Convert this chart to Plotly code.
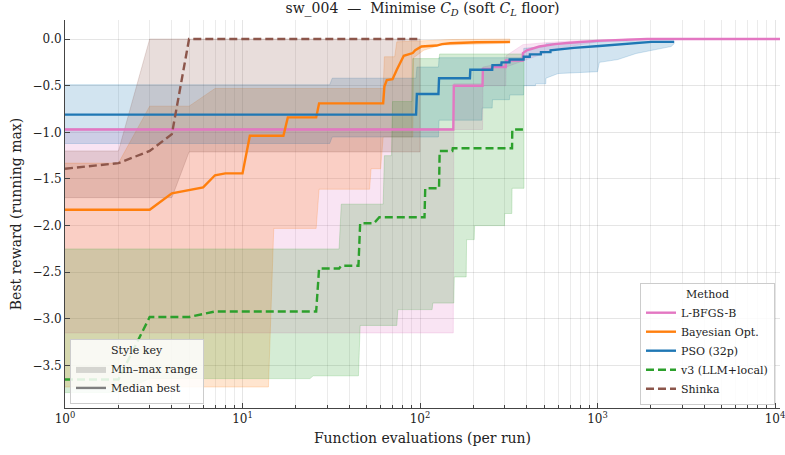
import plotly.graph_objects as go

# ---- data: (function evaluations, best reward) knots ----
methods = ["L-BFGS-B", "Bayesian Opt.", "PSO (32p)", "v3 (LLM+local)", "Shinka"]
colors = ["#e377c2", "#ff7f0e", "#1f77b4", "#2ca02c", "#8c564b"]
dashes = ["solid", "solid", "solid", "8px,4px", "8px,4px"]

lbfgs_median = [(1, -0.97), (154, -0.97), (155, -0.50), (225, -0.50), (226, -0.32), (253, -0.32),
                (254, -0.30), (304, -0.30), (305, -0.23), (379, -0.23), (380, -0.15), (400, -0.12),
                (470, -0.08), (575, -0.055), (700, -0.04), (990, -0.02), (1900, 0.0), (11000, 0.0)]
lbfgs_lower = [(1, -3.15), (154, -3.15), (155, -0.97), (225, -0.97), (226, -0.50), (304, -0.50),
               (305, -0.30), (600, -0.10), (1000, -0.03), (1500, 0.0), (11000, 0.0)]
lbfgs_upper = [(1, -0.96), (154, -0.96), (155, -0.48), (225, -0.48), (226, -0.30), (304, -0.25),
               (305, -0.18), (380, -0.06), (500, -0.04), (700, -0.02), (1000, -0.01), (1500, 0.0),
               (11000, 0.0)]

bayes_median = [(1, -1.83), (3, -1.83), (4, -1.654), (6, -1.59), (7, -1.46), (8, -1.44), (10, -1.44),
                (11, -1.036), (17, -1.036), (18, -0.84), (26, -0.84), (27, -0.69), (62, -0.69),
                (63, -0.51), (65, -0.44), (70, -0.43), (74, -0.33), (79, -0.225), (81, -0.18),
                (91, -0.15), (94, -0.12), (102, -0.08), (124, -0.07), (133, -0.054), (148, -0.046),
                (208, -0.035), (321, -0.03)]
bayes_lower = [(1, -3.73), (14, -3.73), (15, -2.03), (26, -2.03), (27, -1.61), (52, -1.61),
               (53, -1.39), (60, -1.39), (61, -1.22), (62, -1.05), (91, -1.05), (92, -0.20),
               (100, -0.15), (105, -0.12), (130, -0.065), (321, -0.045)]
bayes_upper = [(1, -1.33), (2, -1.33), (3, -0.72), (5, -0.72), (7, -0.53), (62, -0.53), (63, -0.19),
               (72, -0.19), (74, -0.03), (100, -0.02), (150, -0.005), (321, 0.0)]

pso_median = [(1, -0.81), (95, -0.81), (96, -0.59), (127, -0.59), (128, -0.42), (191, -0.42),
              (192, -0.33), (255, -0.33), (256, -0.28), (287, -0.28), (288, -0.25), (319, -0.25),
              (320, -0.22), (383, -0.22), (384, -0.19), (415, -0.19), (416, -0.165), (479, -0.165),
              (480, -0.14), (543, -0.14), (544, -0.12), (640, -0.105), (736, -0.095), (1024, -0.075),
              (1440, -0.05), (2016, -0.03), (2700, -0.03)]
pso_lower = [(1, -1.12), (31, -1.12), (32, -1.05), (127, -1.05), (128, -0.87), (223, -0.87),
             (224, -0.74), (255, -0.74), (256, -0.65), (319, -0.65), (320, -0.60), (383, -0.60),
             (384, -0.50), (447, -0.50), (448, -0.48), (511, -0.48), (512, -0.42), (600, -0.37),
             (1000, -0.35), (1024, -0.25), (1300, -0.22), (1650, -0.155), (2300, -0.10),
             (2600, -0.08), (2700, -0.05)]
pso_upper = [(1, -0.49), (31, -0.49), (32, -0.42), (95, -0.42), (96, -0.30), (127, -0.30),
             (128, -0.20), (383, -0.20), (384, -0.10), (511, -0.08), (512, -0.05), (1000, -0.03),
             (1500, -0.02), (2700, -0.02)]

v3_median = [(1, -3.65), (2, -3.65), (3, -2.98), (5, -2.98), (7, -2.92), (26, -2.92), (27, -2.46),
             (35, -2.46), (36, -2.43), (45, -2.43), (46, -1.975), (55, -1.975), (59, -1.91),
             (106, -1.91), (107, -1.60), (128, -1.60), (129, -1.20), (152, -1.20), (153, -1.17),
             (330, -1.17), (331, -0.97), (380, -0.97)]
v3_lower = [(1, -3.79), (2, -3.79), (3, -3.64), (24, -3.64), (25, -3.61), (45, -3.61), (46, -3.07),
            (74, -3.07), (75, -2.90), (117, -2.90), (118, -2.83), (155, -2.83), (156, -2.55),
            (182, -2.55), (183, -2.15), (202, -2.15), (203, -2.00), (299, -2.00), (300, -1.87),
            (329, -1.87), (330, -1.60), (385, -1.60)]
v3_upper = [(1, -2.25), (35, -2.25), (36, -1.77), (62, -1.77), (63, -1.25), (69, -1.25), (70, -0.67),
            (90, -0.67), (91, -0.21), (128, -0.21), (129, -0.16), (385, -0.16)]

shinka_median = [(1, -1.39), (2, -1.33), (3, -1.20), (4, -1.02), (5, 0.0), (100, 0.0)]
shinka_lower = [(1, -1.70), (4, -1.70), (5, -1.21), (100, -1.21)]
shinka_upper = [(1, -1.20), (2, -1.20), (3, 0.0), (100, 0.0)]

medians = [lbfgs_median, bayes_median, pso_median, v3_median, shinka_median]
lowers = [lbfgs_lower, bayes_lower, pso_lower, v3_lower, shinka_lower]
uppers = [lbfgs_upper, bayes_upper, pso_upper, v3_upper, shinka_upper]

FONT = "DejaVu Serif"


def rgba(hex_color, a):
    h = hex_color.lstrip("#")
    r, g, b = int(h[0:2], 16), int(h[2:4], 16), int(h[4:6], 16)
    return f"rgba({r},{g},{b},{a})"


fig = go.Figure()

# min-max bands
for name, col, lo, hi in zip(methods, colors, lowers, uppers):
    xs = [p[0] for p in lo] + [p[0] for p in reversed(hi)]
    ys = [p[1] for p in lo] + [p[1] for p in reversed(hi)]
    fig.add_trace(go.Scatter(
        x=xs, y=ys, mode="lines", fill="toself",
        fillcolor=rgba(col, 0.2), line=dict(color=rgba(col, 0.25), width=0.8),
        showlegend=False, hoverinfo="skip",
    ))

# median lines
for name, col, dash, med in zip(methods, colors, dashes, medians):
    fig.add_trace(go.Scatter(
        x=[p[0] for p in med], y=[p[1] for p in med], mode="lines", name=name,
        line=dict(color=col, width=2.4, dash=dash), legend="legend",
    ))

# style key
fig.add_trace(go.Scatter(
    x=[None], y=[None], mode="lines", fill="toself", name="Min\u2013max range",
    fillcolor="rgba(128,128,128,0.3)", line=dict(color="rgba(128,128,128,0.3)", width=0),
    legend="legend2",
))
fig.add_trace(go.Scatter(
    x=[None], y=[None], mode="lines", name="Median best",
    line=dict(color="#7f7f7f", width=2.4), legend="legend2",
))

minor_vals = [k * 10 ** d for d in range(0, 4) for k in range(2, 10)]

fig.update_xaxes(
    type="log", range=[0, 4.028], automargin=False, ticklabeloverflow="allow",
    tickvals=[1, 10, 100, 1000, 10000],
    ticktext=["10<sup>0</sup>", "10<sup>1</sup>", "10<sup>2</sup>", "10<sup>3</sup>", "10<sup>4</sup>"],
    ticks="inside", ticklen=5, tickcolor="#444", tickfont=dict(size=12),
    showline=True, linecolor="#444", linewidth=1,
    showgrid=True, gridcolor="rgba(0,0,0,0.1)", gridwidth=0.8,
    minor=dict(tickvals=minor_vals, ticks="inside", ticklen=3, tickcolor="#444",
               showgrid=True, gridcolor="rgba(0,0,0,0.08)", gridwidth=0.8),
    title=dict(text="Function evaluations (per run)", font=dict(size=14), standoff=7),
    zeroline=False,
)
fig.update_yaxes(
    range=[-3.955, 0.204], automargin=False,
    tickvals=[0, -0.5, -1, -1.5, -2, -2.5, -3, -3.5], tickformat=".1f",
    ticks="inside", ticklen=5, tickcolor="#444", tickfont=dict(size=12),
    showline=True, linecolor="#444", linewidth=1,
    showgrid=True, gridcolor="rgba(0,0,0,0.1)", gridwidth=0.8,
    title=dict(text="Best reward (running max)", font=dict(size=14), standoff=7),
    zeroline=False,
)

fig.update_layout(
    width=785, height=455,
    paper_bgcolor="white", plot_bgcolor="white",
    font=dict(family=FONT, size=12, color="#222"),
    margin=dict(l=65, r=5, t=20, b=47, autoexpand=False),
    title=dict(
        text="sw_004\u00a0 \u2014 \u00a0Minimise <i>C</i><sub><i>D</i></sub> (soft <i>C</i><sub><i>L</i></sub> floor)",
        x=0.5, xref="paper", y=0.992, yanchor="top", font=dict(size=14),
    ),
    legend=dict(
        title=dict(text="Method", side="top center", font=dict(size=11)),
        x=0.993, y=0.008, xanchor="right", yanchor="bottom",
        bgcolor="rgba(255,255,255,0.85)", bordercolor="#ccc", borderwidth=1,
        font=dict(size=11), tracegroupgap=0,
    ),
    legend2=dict(
        title=dict(text="Style key", side="top center", font=dict(size=11)),
        x=0.007, y=0.01, xanchor="left", yanchor="bottom",
        bgcolor="rgba(255,255,255,0.85)", bordercolor="#ccc", borderwidth=1,
        font=dict(size=11),
    ),
)

fig.write_html("out.html", config={"displayModeBar": False},
               post_script="document.body.style.margin='0';")
